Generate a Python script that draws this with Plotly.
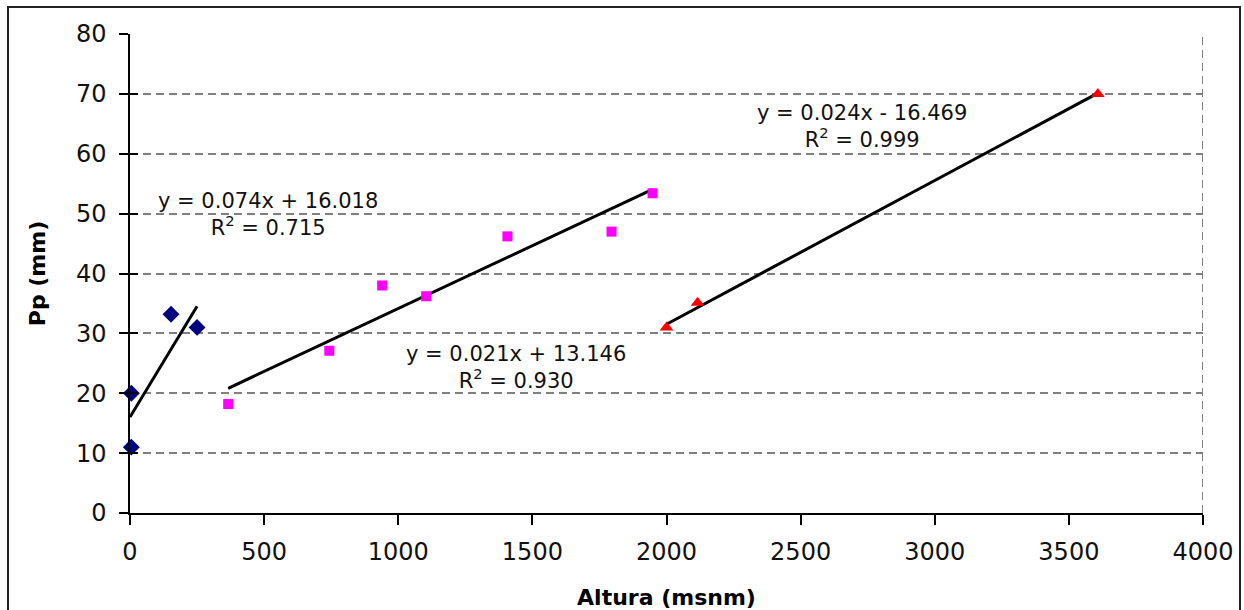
import plotly.graph_objects as go

# Data
blue_x = [5, 5, 153, 250]
blue_y = [11.0, 20.0, 33.2, 31.0]
pink_x = [366, 743, 940, 1104, 1407, 1795, 1948]
pink_y = [18.2, 27.1, 38.0, 36.2, 46.2, 47.0, 53.4]
red_x = [2000, 2116, 3608]
red_y = [31.0, 35.1, 70.0]

slopes = [0.074, 0.021, 0.024]
intercepts = [16.018, 13.146, -16.469]
eq_labels = ["y = 0.074x + 16.018<br>R<sup>2</sup> = 0.715",
             "y = 0.021x + 13.146<br>R<sup>2</sup> = 0.930",
             "y = 0.024x - 16.469<br>R<sup>2</sup> = 0.999"]
eq_pos = [(514, 49.9), (1440, 24.3), (2729, 64.6)]

x_ticks = [0, 500, 1000, 1500, 2000, 2500, 3000, 3500, 4000]
y_ticks = [0, 10, 20, 30, 40, 50, 60, 70, 80]

FONT = "DejaVu Sans, Arial, sans-serif"

W, H = 1244, 610
L, R, T, B = 130, 1244 - 1203, 34, 610 - 513
PW, PH = W - L - R, H - T - B

fig = go.Figure()

series = [
    (blue_x, blue_y, dict(symbol="diamond", color="#000080", size=13)),
    (pink_x, pink_y, dict(symbol="square", color="#FF00FF", size=10)),
    (red_x, red_y, dict(symbol="triangle-up", color="#FF0000", size=12)),
]

for i, (xs, ys, mk) in enumerate(series):
    x0, x1 = min(xs), max(xs)
    if i == 0:
        x0 = 0
    fig.add_trace(go.Scatter(x=[x0, x1],
                             y=[slopes[i] * x0 + intercepts[i], slopes[i] * x1 + intercepts[i]],
                             mode="lines", line=dict(color="black", width=3),
                             showlegend=False, hoverinfo="skip"))
for xs, ys, mk in series:
    fig.add_trace(go.Scatter(x=xs, y=ys, mode="markers",
                             marker=dict(symbol=mk["symbol"], color=mk["color"], size=mk["size"],
                                         line=dict(width=0)),
                             showlegend=False, cliponaxis=False))

for (ex, ey), txt in zip(eq_pos, eq_labels):
    fig.add_annotation(x=ex, y=ey, text=txt, showarrow=False, align="center",
                       font=dict(family=FONT, size=21, color="#111111"))

# right dashed border of plot area
fig.add_shape(type="line", x0=4000, x1=4000, y0=0, y1=80, xref="x", yref="y",
              line=dict(color="#808080", width=2, dash="8px,5px"))

# outer chart border
fig.add_shape(type="rect", xref="paper", yref="paper",
              x0=(8 - L) / PW, x1=(1240 - L) / PW,
              y0=(513 - 650) / PH, y1=(513 - 7) / PH,
              line=dict(color="#222222", width=2), fillcolor="rgba(0,0,0,0)", layer="below")

fig.update_layout(
    width=W, height=H,
    margin=dict(l=L, r=R, t=T, b=B, autoexpand=False),
    paper_bgcolor="white", plot_bgcolor="white",
    font=dict(family=FONT, color="black"),
    xaxis=dict(range=[0, 4000], tickvals=x_ticks, showgrid=False, zeroline=False,
               showline=True, linecolor="black", linewidth=1.5, automargin=False,
               ticks="outside", ticklen=10, tickcolor="black", tickwidth=1.5,
               tickfont=dict(size=24, family=FONT, color="#111111"), ticklabelstandoff=6,
               title=dict(text="<b>Altura (msnm)</b>", font=dict(size=22, family=FONT), standoff=26)),
    yaxis=dict(range=[0, 80], tickvals=y_ticks, showgrid=True, gridcolor="#808080", gridwidth=2,
               griddash="8px,5px", zeroline=False, automargin=False,
               showline=True, linecolor="black", linewidth=1.5,
               ticks="outside", ticklen=9, tickcolor="black", tickwidth=1.5,
               tickfont=dict(size=24, family=FONT, color="#111111"), ticklabelstandoff=8,
               title=dict(text="<b>Pp (mm)</b>", font=dict(size=22, family=FONT), standoff=24)),
    yaxis2=dict(range=[0, 80], tickvals=y_ticks, overlaying="y", side="left",
                showgrid=False, zeroline=False, showticklabels=False, automargin=False,
                ticks="inside", ticklen=8, tickcolor="black", tickwidth=1.5),
)
# invisible point to activate the overlay axis carrying the inner tick half
fig.add_trace(go.Scatter(x=[0], y=[0], yaxis="y2", mode="markers",
                         marker=dict(opacity=0), showlegend=False, hoverinfo="skip"))

fig.write_html("out.html", config={"displayModeBar": False},
               post_script="document.body.style.margin='0';document.body.style.overflow='hidden';")
